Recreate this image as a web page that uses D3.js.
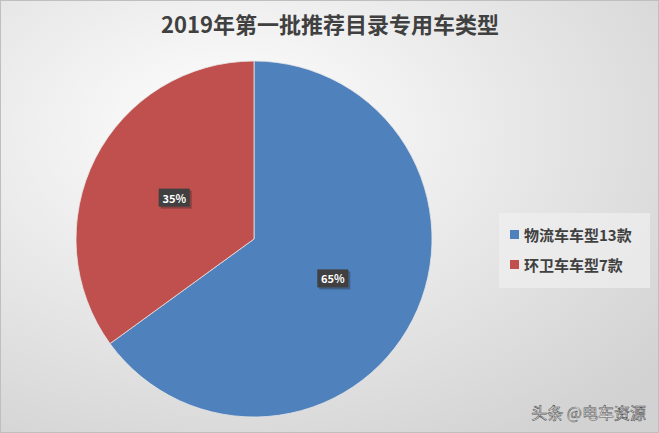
<!DOCTYPE html>
<html><head><meta charset="utf-8">
<script src="https://cdn.jsdelivr.net/npm/d3@7"></script>
<style>body{margin:0}svg{display:block}</style>
</head><body>
<script>
const categories = ["物流车车型13款", "环卫车车型7款"];
const values = [13, 7];
const colors = ["#4f81bd", "#c0504d"];
const title = "2019年第一批推荐目录专用车类型";

const W = 659, H = 433;
const svg = d3.select("body").append("svg").attr("width", W).attr("height", H);
const defs = svg.append("defs");
const g = defs.append("radialGradient").attr("id", "bg").attr("cx", "35%").attr("cy", "30%").attr("r", "85%");
g.append("stop").attr("offset", "0").attr("stop-color", "#ffffff");
g.append("stop").attr("offset", "1").attr("stop-color", "#d2d2d2");
svg.append("rect").attr("x", 0.5).attr("y", 0.5).attr("width", W - 1).attr("height", H - 1)
  .attr("fill", "url(#bg)").attr("stroke", "#bfbfbf");

const font = "'Noto Sans CJK SC', sans-serif";
svg.append("text").attr("x", 330).attr("y", 33).attr("text-anchor", "middle")
  .attr("font-family", font).attr("font-size", 22).attr("font-weight", "bold").attr("fill", "#404040").text(title);

const cx = 254, cy = 239, r = 178;
const pie = d3.pie().sort(null)(values);
const arc = d3.arc().innerRadius(0).outerRadius(r);
const pg = svg.append("g").attr("transform", `translate(${cx},${cy})`);
pg.selectAll("path").data(pie).join("path").attr("d", arc)
  .attr("fill", (d, i) => colors[i]).attr("stroke", "#e6e6e6").attr("stroke-width", 0.8);

const total = d3.sum(values);
const lab = d3.arc().innerRadius(r * 0.5).outerRadius(r * 0.5);
pie.forEach(d => {
  const [x, y] = lab.centroid(d);
  const t = Math.round(d.value / total * 100) + "%";
  const lg = pg.append("g").attr("transform", `translate(${x},${y})`);
  lg.append("rect").attr("x", -14).attr("y", -8).attr("width", 31).attr("height", 18).attr("fill", "#222").attr("opacity", 0.35);
  lg.append("rect").attr("x", -16).attr("y", -10).attr("width", 31).attr("height", 18).attr("fill", "#404040");
  lg.append("text").attr("x", -0.5).attr("y", 4).attr("text-anchor", "middle").attr("font-family", font)
    .attr("font-size", 11).attr("font-weight", "bold").attr("fill", "#fff").text(t);
});

svg.append("rect").attr("x", 499).attr("y", 213).attr("width", 151).attr("height", 75).attr("fill", "#f0f0f0").attr("opacity", 0.7);
categories.forEach((c, i) => {
  const y = 235 + i * 30;
  svg.append("rect").attr("x", 510).attr("y", y - 5).attr("width", 9).attr("height", 9).attr("fill", colors[i]);
  svg.append("text").attr("x", 524).attr("y", y + 6).attr("font-family", font).attr("font-size", 15)
    .attr("font-weight", "bold").attr("fill", "#404040").text(c);
});

svg.append("text").attr("x", 646).attr("y", 419).attr("text-anchor", "end").attr("font-family", font)
  .attr("font-size", 16).attr("fill", "#fff").attr("stroke", "#555").attr("stroke-width", 0.6).text("头条 @电车资源");
</script>
</body></html>
